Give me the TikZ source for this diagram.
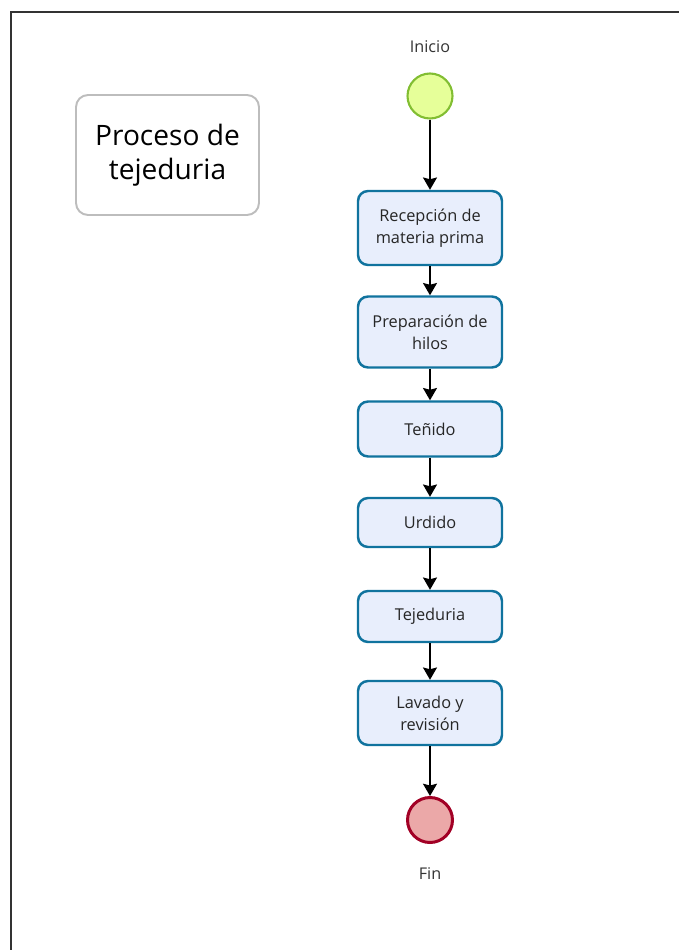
\documentclass[tikz,border=0pt]{standalone}
\usepackage{fontspec}
\setmainfont{Open Sans}
\usetikzlibrary{arrows.meta}
\definecolor{taskFill}{HTML}{E8EEFC}
\definecolor{taskLine}{HTML}{10739E}
\definecolor{startFill}{HTML}{E6FF99}
\definecolor{startLine}{HTML}{82BE32}
\definecolor{endFill}{HTML}{EBA8A8}
\definecolor{endLine}{HTML}{A20025}
\definecolor{noteLine}{HTML}{BDBDBD}
\definecolor{frameLine}{HTML}{333333}
\newcommand\taskWidth{2.88cm}
\newcommand\eventSize{0.9cm}
\tikzset{
	task/.style={draw=taskLine, fill=taskFill, line width=1.4pt, rounded corners=0.2cm,
		minimum width=\taskWidth, align=center, font=\fontsize{9.3}{12.5}\selectfont, text=black!85},
	event/.style={circle, minimum size=\eventSize, inner sep=0pt},
	flow/.style={-{Stealth[length=7pt, width=8pt, inset=1pt]}, line width=0.8pt, black},
	caption/.style={font=\fontsize{9.2}{11}\selectfont, text=black!80}
}

\begin{document}
\begin{tikzpicture}[x=0.02cm, y=-0.02cm]
		\useasboundingbox (0,0) rectangle (679,950);
		\draw[color=frameLine, line width=0.9pt] (11,950) -- (11,12) -- (679,12);
	
		% titulo
		\node[draw=noteLine, line width=1.1pt, rounded corners=0.24cm, minimum width=3.66cm, minimum height=2.4cm,
			align=center, font=\fontsize{16}{19.5}\selectfont] (titulo) at (167.5,155) {Proceso de\\ tejeduria};
	
		% eventos
		\node[event, draw=startLine, fill=startFill, line width=1.2pt] (inicio) at (430,96) {};
		\node[caption] (inicioTxt) at (430,47) {Inicio};
		\node[event, draw=endLine, fill=endFill, line width=1.7pt] (fin) at (430,820) {};
		\node[caption] (finTxt) at (430,874) {Fin};
	
		% tareas
		\node[task, minimum height=1.48cm] (recepcion) at (430,228) {Recepción de\\materia prima};
		\node[task, minimum height=1.42cm] (preparacion) at (430,332) {Preparación de\\hilos};
		\node[task, minimum height=1.10cm] (tenido) at (430,429) {Teñido};
		\node[task, minimum height=0.98cm] (urdido) at (430,522.5) {Urdido};
		\node[task, minimum height=1.02cm] (tejeduria) at (430,616.5) {Tejeduria};
		\node[task, minimum height=1.28cm] (lavado) at (430,713) {Lavado y\\revisión};
	
		\foreach \a/\b in {inicio/recepcion, recepcion/preparacion, preparacion/tenido,
			tenido/urdido, urdido/tejeduria, tejeduria/lavado, lavado/fin}{
			\draw[flow] (\a) -- (\b);
		}
	\end{tikzpicture}
\end{document}
